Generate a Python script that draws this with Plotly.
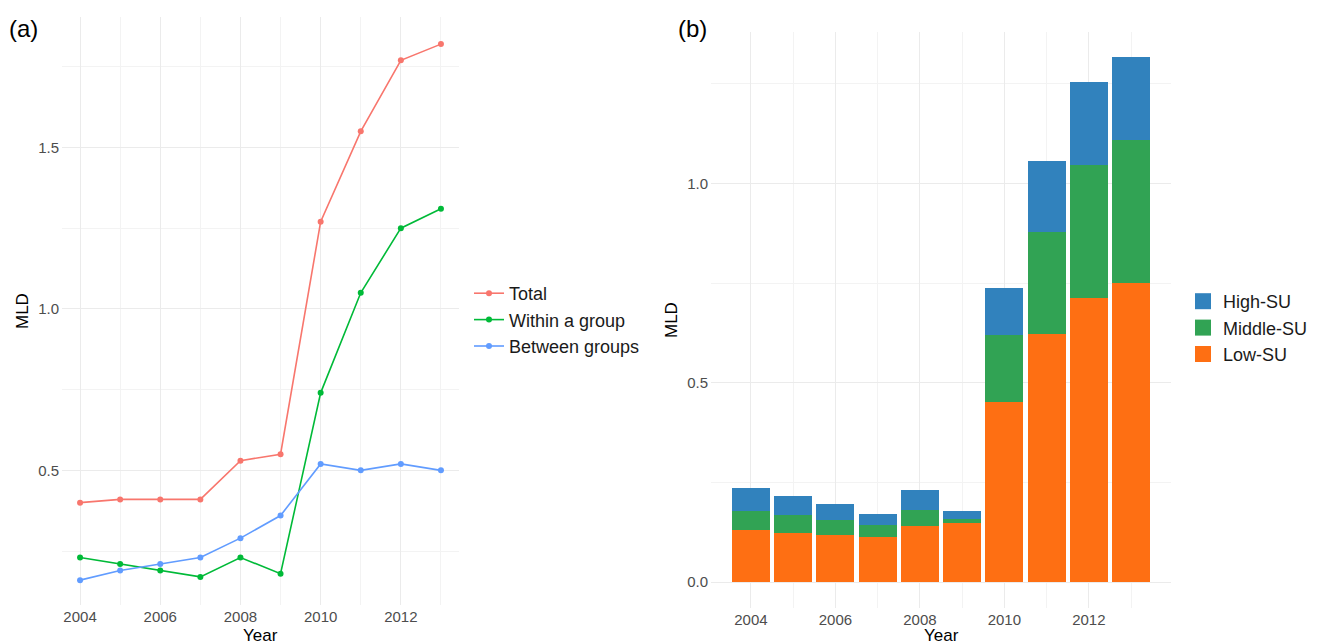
import plotly.graph_objects as go

years = [2004, 2005, 2006, 2007, 2008, 2009, 2010, 2011, 2012, 2013]

# Panel (a): MLD decomposition
total = [0.40, 0.41, 0.41, 0.41, 0.53, 0.55, 1.27, 1.55, 1.77, 1.82]
within_group = [0.23, 0.21, 0.19, 0.17, 0.23, 0.18, 0.74, 1.05, 1.25, 1.31]
between_groups = [0.16, 0.19, 0.21, 0.23, 0.29, 0.36, 0.52, 0.50, 0.52, 0.50]

# Panel (b): stacked contributions
low_su = [0.130, 0.123, 0.117, 0.113, 0.140, 0.147, 0.453, 0.622, 0.713, 0.751]
middle_su = [0.049, 0.045, 0.038, 0.029, 0.041, 0.012, 0.167, 0.257, 0.334, 0.358]
high_su = [0.057, 0.048, 0.041, 0.030, 0.049, 0.020, 0.118, 0.177, 0.207, 0.208]

W, H = 1320, 644
FONT = "Liberation Sans, Arial, Helvetica, sans-serif"
GRID = "#EBEBEB"
MINOR = "#F3F3F3"
TICKC = "#4D4D4D"

def px(x):
    return x / W

def py(y):
    return 1 - y / H

fig = go.Figure()

line_series = [("Total", total, "#F8766D"),
               ("Within a group", within_group, "#00BA38"),
               ("Between groups", between_groups, "#619CFF")]
for name, vals, col in line_series:
    fig.add_trace(go.Scatter(x=years, y=vals, name=name, mode="lines+markers",
                             line=dict(color=col, width=1.6),
                             marker=dict(color=col, size=6),
                             xaxis="x", yaxis="y", legend="legend"))

bar_series = [("Low-SU", low_su, "#FE6F13"),
              ("Middle-SU", middle_su, "#31A354"),
              ("High-SU", high_su, "#3182BD")]
for name, vals, col in bar_series:
    fig.add_trace(go.Bar(x=years, y=vals, name=name, width=0.9,
                         marker=dict(color=col, line=dict(width=0)),
                         showlegend=False,
                         xaxis="x2", yaxis="y2"))
# legend keys (square swatches, like ggplot's fill keys)
for name, vals, col in bar_series:
    fig.add_trace(go.Scatter(x=[None], y=[None], name=name, mode="markers",
                             marker=dict(symbol="square", color=col, size=16,
                                         line=dict(width=0)),
                             xaxis="x2", yaxis="y2", legend="legend2"))

axis_common = dict(showline=False, zeroline=False, ticks="", showgrid=True,
                   gridcolor=GRID, gridwidth=1.2,
                   tickfont=dict(family=FONT, size=15, color=TICKC),
                   automargin=False)

fig.update_layout(
    width=W, height=H,
    margin=dict(l=0, r=0, t=0, b=0),
    paper_bgcolor="white", plot_bgcolor="white",
    font=dict(family=FONT),
    barmode="stack", bargap=0,
    xaxis=dict(domain=[px(62), px(459)], range=[2003.55, 2013.45],
               tickmode="array", tickvals=[2004, 2006, 2008, 2010, 2012],
               minor=dict(tickvals=[2005, 2007, 2009, 2011, 2013], showgrid=True,
                          gridcolor=MINOR, gridwidth=1),
               ticklabelstandoff=1,
               anchor="y", **axis_common),
    yaxis=dict(domain=[py(605), py(17)], range=[0.083, 1.904],
               tickmode="array", tickvals=[0.5, 1.0, 1.5], tickformat=".1f",
               minor=dict(tickvals=[0.25, 0.75, 1.25, 1.75], showgrid=True,
                          gridcolor=MINOR, gridwidth=1),
               ticklabelstandoff=2,
               anchor="x", **axis_common),
    xaxis2=dict(domain=[px(711), px(1171)], range=[2003.055, 2013.945],
                tickmode="array", tickvals=[2004, 2006, 2008, 2010, 2012],
                minor=dict(tickvals=[2005, 2007, 2009, 2011, 2013], showgrid=True,
                           gridcolor=MINOR, gridwidth=1),
                ticklabelstandoff=1,
                anchor="y2", **axis_common),
    yaxis2=dict(domain=[py(608), py(32)], range=[-0.065, 1.380],
                tickmode="array", tickvals=[0.0, 0.5, 1.0], tickformat=".1f",
                minor=dict(tickvals=[0.25, 0.75, 1.25], showgrid=True,
                           gridcolor=MINOR, gridwidth=1),
                ticklabelstandoff=2,
                anchor="x2", **axis_common),
    legend=dict(x=px(469), y=py(275), xanchor="left", yanchor="top",
                font=dict(family=FONT, size=18, color="#1A1A1A"),
                bgcolor="rgba(0,0,0,0)", traceorder="normal",
                itemwidth=30, tracegroupgap=0),
    legend2=dict(x=px(1183), y=py(283), xanchor="left", yanchor="top",
                 font=dict(family=FONT, size=18, color="#1A1A1A"),
                 bgcolor="rgba(0,0,0,0)", traceorder="reversed",
                 itemsizing="trace", itemwidth=30, tracegroupgap=0),
    showlegend=True,
)

annos = [
    dict(text="(a)", x=px(7), y=py(29), xanchor="left", yanchor="middle",
         font=dict(size=24, color="#000000")),
    dict(text="(b)", x=px(676), y=py(29), xanchor="left", yanchor="middle",
         font=dict(size=24, color="#000000")),
    dict(text="Year", x=px(260), y=py(635), xanchor="center", yanchor="middle",
         font=dict(size=17, color="#000000")),
    dict(text="Year", x=px(941), y=py(635), xanchor="center", yanchor="middle",
         font=dict(size=17, color="#000000")),
    dict(text="MLD", x=px(22), y=py(311), xanchor="center", yanchor="middle",
         textangle=-90, font=dict(size=17, color="#000000")),
    dict(text="MLD", x=px(671), y=py(320), xanchor="center", yanchor="middle",
         textangle=-90, font=dict(size=17, color="#000000")),
]
for a in annos:
    a.update(xref="paper", yref="paper", showarrow=False)
    a["font"]["family"] = FONT
    fig.add_annotation(**a)

fig.write_html("out.html",
               config={"displayModeBar": False},
               post_script="document.body.style.margin='0';document.body.style.padding='0';")
